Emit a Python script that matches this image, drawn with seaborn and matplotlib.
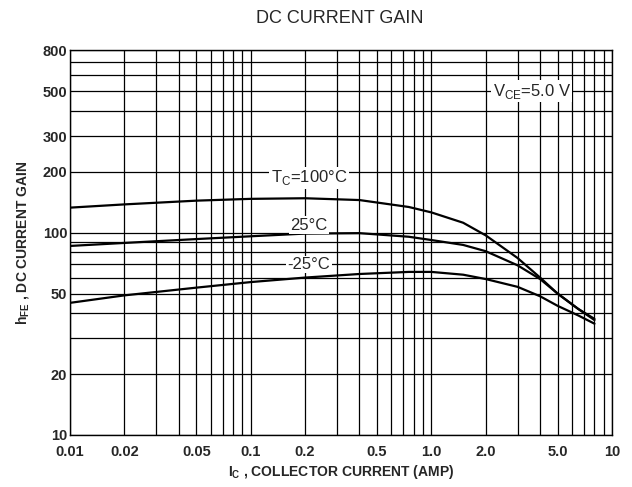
import matplotlib
matplotlib.use("Agg")
import matplotlib.pyplot as plt
import matplotlib.ticker as mticker
import seaborn as sns
import pandas as pd

# collector current (A) and hFE
ic_amp = [0.01, 0.02, 0.05, 0.1, 0.2, 0.4, 0.75, 1.0, 1.5, 2.0, 3.0, 4.0, 5.0, 6.5, 8.0]
hfe_100c = [133, 138, 144, 147, 148, 145, 134, 126, 112, 97, 75, 60, 50, 42, 37.5]
hfe_25c = [86, 89, 93, 96, 99, 99.5, 95.5, 92, 87, 81, 69, 59, 50, 42, 37]
hfe_m25c = [45, 49, 53.5, 57, 60, 62.5, 64, 64, 62, 59, 54, 48.5, 43.5, 39, 35.5]

x_ticks = [0.01, 0.02, 0.05, 0.1, 0.2, 0.5, 1, 2, 5, 10]
x_tick_labels = ["0.01", "0.02", "0.05", "0.1", "0.2", "0.5", "1.0", "2.0", "5.0", "10"]
y_ticks = [10, 20, 50, 100, 200, 300, 500, 800]
y_tick_labels = ["10", "20", "50", "100", "200", "300", "500", "800"]


def build_frame():
    rows = []
    for name, vals in [("100", hfe_100c), ("25", hfe_25c), ("-25", hfe_m25c)]:
        for i, h in zip(ic_amp, vals):
            rows.append({"ic": i, "hfe": h, "temp": name})
    return pd.DataFrame(rows)


def main():
    sns.set_style("white")
    plt.rcParams["font.family"] = ["Liberation Sans", "DejaVu Sans"]
    plt.rcParams["mathtext.fontset"] = "custom"
    plt.rcParams["mathtext.rm"] = "Liberation Sans"
    plt.rcParams["mathtext.bf"] = "Liberation Sans:bold"

    df = build_frame()

    fig = plt.figure(figsize=(6.32, 4.87), dpi=100)
    ax = fig.add_axes([70 / 632, 1 - 435 / 487, 542 / 632, 385 / 487])

    sns.lineplot(
        data=df, x="ic", y="hfe", hue="temp",
        palette=["black", "black", "black"], linewidth=1.6,
        legend=False, ax=ax, zorder=3,
    )

    ax.set_xscale("log")
    ax.set_yscale("log")
    ax.set_xlim(0.01, 10)
    ax.set_ylim(10, 800)

    ax.set_xticks(x_ticks)
    ax.set_xticklabels(x_tick_labels)
    ax.set_yticks(y_ticks)
    ax.set_yticklabels(y_tick_labels)
    ax.xaxis.set_minor_locator(mticker.LogLocator(base=10, subs=range(2, 10)))
    ax.yaxis.set_minor_locator(mticker.LogLocator(base=10, subs=range(2, 10)))
    ax.xaxis.set_minor_formatter(mticker.NullFormatter())
    ax.yaxis.set_minor_formatter(mticker.NullFormatter())
    ax.tick_params(which="both", length=0, labelsize=10.5)
    ax.tick_params(axis="x", pad=7)
    ax.tick_params(axis="y", pad=2)
    for lab in ax.get_xticklabels() + ax.get_yticklabels():
        lab.set_fontweight("bold")

    ax.grid(which="both", color="black", linewidth=0.9)
    for sp in ax.spines.values():
        sp.set_color("black")
        sp.set_linewidth(1.0)

    ax.set_xlabel(r"$\mathbf{I_C}$ , COLLECTOR CURRENT (AMP)", fontsize=10,
                  fontweight="bold", labelpad=3)
    ax.set_ylabel(r"$\mathbf{h_{FE}}$ , DC CURRENT GAIN", fontsize=10,
                  fontweight="bold", labelpad=8)
    fig.text(0.538, 0.962, "DC CURRENT GAIN", ha="center", va="center", fontsize=13)

    box = dict(facecolor="white", edgecolor="none", pad=1)
    ax.text(0.21, 187, r"T$_\mathrm{C}$=100°C", ha="center", va="center",
            fontsize=12, bbox=box, zorder=4)
    ax.text(0.21, 109, "25°C", ha="center", va="center", fontsize=12,
            bbox=box, zorder=4)
    ax.text(0.21, 69.5, "-25°C", ha="center", va="center", fontsize=12,
            bbox=box, zorder=4)
    ax.text(3.6, 500, r"V$_\mathrm{CE}$=5.0 V", ha="center", va="center",
            fontsize=12, bbox=box, zorder=4)

    fig.savefig("out.png", dpi=100)


if __name__ == "__main__":
    main()
